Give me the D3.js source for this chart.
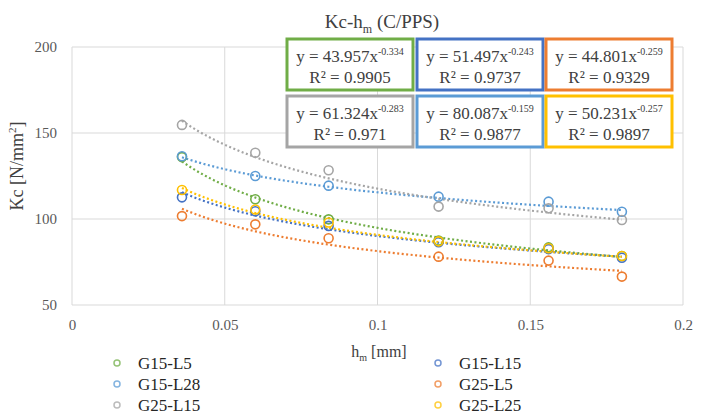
<!DOCTYPE html>
<html lang="en">
<head>
<meta charset="UTF-8">
<script src="https://d3js.org/d3.v7.min.js"></script>
<style>
  body { margin: 0; background: #fff; }
</style>
<title>Kc-hm</title>
</head>
<body>
<div class="canvas"></div>
<script>
const W = 702, H = 416
const SERIF = '"Liberation Serif", "Times New Roman", "DejaVu Serif", serif'

// data
const hm = [0.036, 0.06, 0.084, 0.12, 0.156, 0.18]
const names = ['G15-L5', 'G15-L15', 'G15-L28', 'G25-L5', 'G25-L15', 'G25-L25']
const colors = ['#70AD47', '#4472C4', '#5B9BD5', '#ED7D31', '#A5A5A5', '#FFC000']
const kcG15L5 = [136, 111.5, 99.8, 87.5, 83.5, 78.5]
const kcG15L15 = [112.6, 104.5, 96, 86.5, 82.5, 77.5]
const kcG15L28 = [136.5, 125, 119.4, 113, 110.1, 104.2]
const kcG25L5 = [101.7, 96.9, 88.8, 78.1, 75.8, 66.5]
const kcG25L15 = [154.7, 138.5, 128.3, 107.2, 106.2, 99.4]
const kcG25L25 = [116.9, 105.5, 98, 87, 83, 78.5]
const kcAll = [kcG15L5, kcG15L15, kcG15L28, kcG25L5, kcG25L15, kcG25L25]
// power trendlines y = a x^b, from the labels
const trendA = ['43.957', '51.497', '80.087', '44.801', '61.324', '50.231']
const trendB = ['-0.334', '-0.243', '-0.159', '-0.259', '-0.283', '-0.257']
const trendR2 = ['0.9905', '0.9737', '0.9877', '0.9329', '0.971', '0.9897']
const boxOrder = [0, 1, 3, 4, 2, 5]
const xTicks = [0, 0.05, 0.1, 0.15, 0.2]
const yTicks = [50, 100, 150, 200]

const svg = d3.select('.canvas').append('svg')
  .attr('width', W).attr('height', H)
  .style('font-family', SERIF)

const x = d3.scaleLinear().domain([0, 0.2]).range([72, 683])
const y = d3.scaleLinear().domain([50, 200]).range([305, 47])

// grid
svg.append('g').selectAll('line').data(xTicks).join('line')
  .attr('x1', d => x(d)).attr('x2', d => x(d))
  .attr('y1', y(200)).attr('y2', y(50))
  .attr('stroke', '#d9d9d9').attr('stroke-width', 1)
svg.append('g').selectAll('line').data(yTicks).join('line')
  .attr('x1', x(0)).attr('x2', x(0.2))
  .attr('y1', d => y(d)).attr('y2', d => y(d))
  .attr('stroke', '#d9d9d9').attr('stroke-width', 1)

const xAxis = d3.axisBottom(x).tickValues(xTicks).tickSize(0).tickPadding(14)
  .tickFormat(d => d === 0 ? '0' : String(d))
const xg = svg.append('g').attr('transform', `translate(0,${y(50)})`).call(xAxis)
const yAxis = d3.axisLeft(y).tickValues(yTicks).tickSize(0).tickPadding(15)
const yg = svg.append('g').attr('transform', `translate(${x(0)},0)`).call(yAxis)
;[xg, yg].forEach(g => {
  g.attr('font-family', null).attr('font-size', null)
  g.select('.domain').remove()
  g.selectAll('text').attr('fill', '#595959').style('font-size', '15px')
    .style('font-family', SERIF)
})

// trendlines
const line = d3.line().x(d => x(d[0])).y(d => y(d[1]))
kcAll.forEach((vals, i) => {
  const a = +trendA[i], b = +trendB[i]
  const x0 = d3.min(hm), x1 = d3.max(hm)
  const pts = d3.range(0, 61).map(k => {
    const xv = x0 + (x1 - x0) * k / 60
    return [xv, a * Math.pow(xv, b)]
  })
  svg.append('path').datum(pts).attr('d', line)
    .attr('fill', 'none').attr('stroke', colors[i])
    .attr('stroke-width', 2.2).attr('stroke-dasharray', '2,2.5')
})

// markers
kcAll.forEach((vals, i) => {
  svg.append('g').selectAll('circle').data(vals).join('circle')
    .attr('cx', (d, j) => x(hm[j])).attr('cy', d => y(d))
    .attr('r', 4.5).attr('fill', 'none')
    .attr('stroke', colors[i]).attr('stroke-width', 1.6)
})

// equation boxes
const boxX = [287, 417, 546], boxY = [39, 96], boxW = 126, boxH = 51
boxOrder.forEach((s, k) => {
  const bx = boxX[k % 3], by = boxY[Math.floor(k / 3)]
  const g = svg.append('g').attr('transform', `translate(${bx},${by})`)
  g.append('rect').attr('x', 0).attr('y', 0).attr('width', boxW).attr('height', boxH)
    .attr('fill', '#fff').attr('stroke', colors[s]).attr('stroke-width', 3)
  const t1 = g.append('text').attr('x', boxW / 2).attr('y', 23)
    .attr('text-anchor', 'middle').attr('fill', '#404040')
    .style('font-family', SERIF).style('font-size', '17px')
  t1.append('tspan').text(`y = ${trendA[s]}x`)
  t1.append('tspan').attr('dy', -7).style('font-size', '10px').text(trendB[s])
  g.append('text').attr('x', boxW / 2).attr('y', 44)
    .attr('text-anchor', 'middle').attr('fill', '#404040')
    .style('font-family', SERIF).style('font-size', '17px')
    .text(`R² = ${trendR2[s]}`)
})

// titles
const title = svg.append('text').attr('x', 382).attr('y', 28)
  .attr('text-anchor', 'middle').attr('fill', '#404040')
  .style('font-family', SERIF).style('font-size', '19px')
title.append('tspan').text('Kc-h')
title.append('tspan').attr('dy', 5).style('font-size', '12px').text('m')
title.append('tspan').attr('dy', -5).text(' (C/PPS)')

const xt = svg.append('text').attr('x', 379).attr('y', 357)
  .attr('text-anchor', 'middle').attr('fill', '#404040')
  .style('font-family', SERIF).style('font-size', '16px')
xt.append('tspan').text('h')
xt.append('tspan').attr('dy', 4).style('font-size', '10px').text('m')
xt.append('tspan').attr('dy', -4).text(' [mm]')

const yt = svg.append('text').attr('transform', 'translate(23,166) rotate(-90)')
  .attr('text-anchor', 'middle').attr('fill', '#404040')
  .style('font-family', SERIF).style('font-size', '18px')
yt.append('tspan').text('Kc [N/mm')
yt.append('tspan').attr('dy', -7).style('font-size', '11px').text('2')
yt.append('tspan').attr('dy', 7).text(']')

// legend
const legX = [117, 438], legY = [363, 384, 405]
names.forEach((n, i) => {
  const lx = legX[i % 2], ly = legY[Math.floor(i / 2)]
  svg.append('circle').attr('cx', lx).attr('cy', ly).attr('r', 3)
    .attr('fill', 'none').attr('stroke', colors[i]).attr('stroke-width', 1.5)
    .attr('opacity', 0.75)
  svg.append('text').attr('x', lx + 21).attr('y', ly + 6)
    .attr('fill', '#262626').style('font-family', SERIF).style('font-size', '17px')
    .text(n)
})
</script>
</body>
</html>
